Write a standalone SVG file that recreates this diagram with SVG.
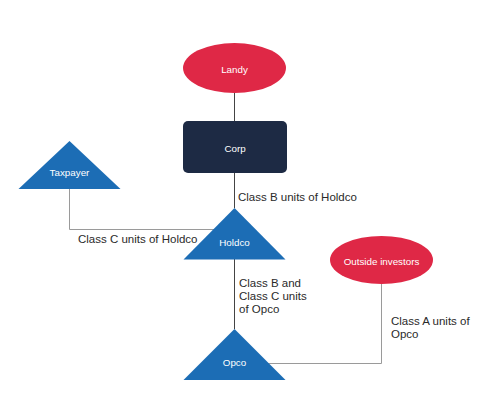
<svg xmlns="http://www.w3.org/2000/svg" width="500" height="404" viewBox="0 0 500 404">
<style>
.lbl{font-family:"Liberation Sans",Arial,sans-serif;font-size:11.5px;fill:#2a2a2a}
.nt{font-family:"Liberation Sans",Arial,sans-serif;font-size:9.8px;fill:#fff;text-anchor:middle;dominant-baseline:central}
.red{fill:#DF2846}
.blue{fill:#1C6DB5}
.navy{fill:#1D2A44}
.v{stroke:#444;stroke-width:1;fill:none}
.e{stroke:#9a9a9a;stroke-width:1;fill:none}
</style>
<rect width="500" height="404" fill="#fff"/>
<g id="connectors">
<path class="v" d="M234.5 93V121"/>
<path class="v" d="M234.5 173V208"/>
<path class="v" d="M234.5 259V329"/>
<path class="e" d="M69.5 189V229.5H214"/>
<path class="e" d="M381.5 284V363.5H268"/>
<text class="lbl" x="238" y="201">Class B units of Holdco</text>
<text class="lbl" x="78" y="243">Class C units of Holdco</text>
<text class="lbl" x="239" y="287">Class B and</text>
<text class="lbl" x="239" y="300">Class C units</text>
<text class="lbl" x="239" y="313">of Opco</text>
<text class="lbl" x="391" y="325">Class A units of</text>
<text class="lbl" x="391" y="338">Opco</text>
</g>
<g id="landy"><ellipse class="red" cx="234.5" cy="68" rx="51.5" ry="25"/><text class="nt" x="234.5" y="69">Landy</text></g>
<g id="corp"><rect class="navy" x="183" y="121" width="104" height="52" rx="5"/><text class="nt" x="235" y="148">Corp</text></g>
<g id="taxpayer"><polygon class="blue" points="69.5,141 120.5,189 18.5,189"/><text class="nt" x="69.5" y="172">Taxpayer</text></g>
<g id="holdco"><polygon class="blue" points="234.5,208 285.5,259.5 183.5,259.5"/><text class="nt" x="234.5" y="242">Holdco</text></g>
<g id="outside"><ellipse class="red" cx="381.5" cy="260" rx="51.5" ry="24"/><text class="nt" x="381.5" y="261">Outside investors</text></g>
<g id="opco"><polygon class="blue" points="234.5,329 285.5,380 183.5,380"/><text class="nt" x="234.5" y="362">Opco</text></g>
</svg>
